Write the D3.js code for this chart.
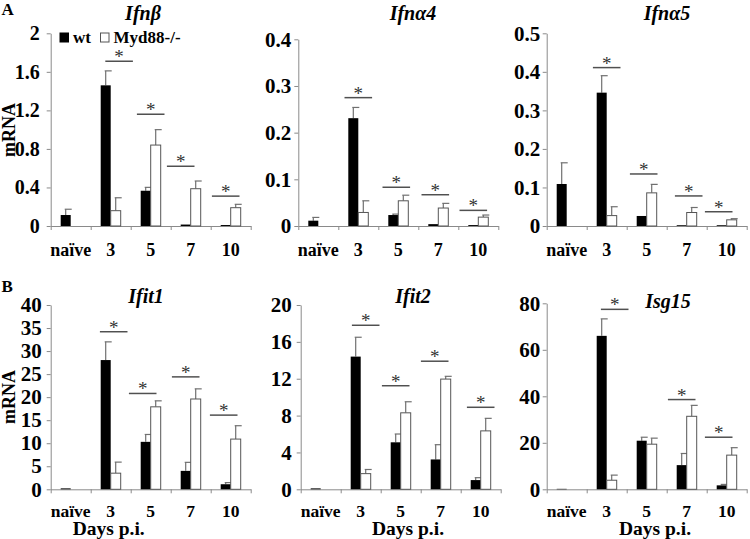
<!DOCTYPE html>
<html>
<head>
<meta charset="utf-8">
<script src="https://cdn.jsdelivr.net/npm/d3@7"></script>
<style>
  html, body { margin: 0; padding: 0; background: #fff; }
  svg { display: block; font-family: "Liberation Serif", "Times New Roman", serif; }
</style>
</head>
<body>
<svg id="chart" width="750" height="539"></svg>
<script>
// ---------- DATA ----------
const categories = ["naïve", "3", "5", "7", "10"];
const seriesNames = ["wt", "Myd88-/-"];
const geneNames = ["Ifnβ", "Ifnα4", "Ifnα5", "Ifit1", "Ifit2", "Isg15"];

const ifnbWt     = [0.114, 1.46, 0.366, 0.015, 0.01];
const ifnbWtErr  = [0.06, 0.15, 0.035, 0, 0];
const ifnbMyd    = [null, 0.159, 0.84, 0.387, 0.19];
const ifnbMydErr = [null, 0.134, 0.16, 0.08, 0.035];
const ifnbSig    = [null, 1.71, 1.16, 0.62, 0.31];
const ifnbTicks  = [0, 0.4, 0.8, 1.2, 1.6, 2];

const ifna4Wt     = [0.0114, 0.231, 0.0235, 0.004, 0.002];
const ifna4WtErr  = [0.007, 0.023, 0.002, 0, 0];
const ifna4Myd    = [null, 0.029, 0.054, 0.0385, 0.019];
const ifna4MydErr = [null, 0.025, 0.012, 0.010, 0.0045];
const ifna4Sig    = [null, 0.275, 0.083, 0.067, 0.0335];
const ifna4Ticks  = [0, 0.1, 0.2, 0.3, 0.4];

const ifna5Wt     = [0.109, 0.346, 0.026, 0.002, 0.002];
const ifna5WtErr  = [0.055, 0.044, 0, 0, 0];
const ifna5Myd    = [null, 0.027, 0.086, 0.035, 0.016];
const ifna5MydErr = [null, 0.023, 0.022, 0.013, 0.003];
const ifna5Sig    = [null, 0.411, 0.135, 0.078, 0.037];
const ifna5Ticks  = [0, 0.1, 0.2, 0.3, 0.4, 0.5];

const ifit1Wt     = [0.2, 28.05, 10.3, 4.0, 1.1];
const ifit1WtErr  = [0, 3.95, 1.6, 1.85, 0.35];
const ifit1Myd    = [null, 3.5, 17.9, 19.6, 10.9];
const ifit1MydErr = [null, 2.4, 1.3, 2.2, 2.9];
const ifit1Sig    = [null, 34.2, 20.8, 24.4, 16.1];
const ifit1Ticks  = [0, 5, 10, 15, 20, 25, 30, 35, 40];

const ifit2Wt     = [0.1, 14.4, 5.1, 3.24, 1.0];
const ifit2WtErr  = [0, 2.1, 0.9, 1.6, 0.26];
const ifit2Myd    = [null, 1.7, 8.3, 11.96, 6.34];
const ifit2MydErr = [null, 0.45, 1.2, 0.3, 1.36];
const ifit2Sig    = [null, 17.8, 11.24, 13.9, 8.9];
const ifit2Ticks  = [0, 4, 8, 12, 16, 20];

const isg15Wt     = [0.2, 66, 20.9, 10.4, 1.7];
const isg15WtErr  = [0, 7.3, 1.5, 5.0, 0.4];
const isg15Myd    = [null, 3.9, 19.4, 31.4, 14.7];
const isg15MydErr = [null, 2.2, 2.6, 4.7, 3.2];
const isg15Sig    = [null, 77.4, null, 38.6, 22.4];
const isg15Ticks  = [0, 20, 40, 60, 80];

// ---------- LAYOUT (not data) ----------
const panels = [
  {gene: geneNames[0], wt: ifnbWt, wtErr: ifnbWtErr, myd: ifnbMyd, mydErr: ifnbMydErr, sig: ifnbSig, ticks: ifnbTicks,
   x0: 50.7, y0: 226, yTop: 33.3, pad: 7, tickSize: 20, titleX: 143, titleY: 19.5, sigShift: [0, 0.21, 0, -0.25, -0.125], labPad: 17, labSize: 18},
  {gene: geneNames[1], wt: ifna4Wt, wtErr: ifna4WtErr, myd: ifna4Myd, mydErr: ifna4MydErr, sig: ifna4Sig, ticks: ifna4Ticks,
   x0: 298.3, y0: 226, yTop: 39.3, pad: 3, tickSize: 21, titleX: 413, titleY: 19.5, sigShift: [0, 0, -0.05, -0.075, -0.125], labPad: 17, labSize: 18},
  {gene: geneNames[2], wt: ifna5Wt, wtErr: ifna5WtErr, myd: ifna5Myd, mydErr: ifna5MydErr, sig: ifna5Sig, ticks: ifna5Ticks,
   x0: 546.7, y0: 226, yTop: 33.3, pad: 2.5, tickSize: 21, titleX: 667, titleY: 19.5, sigShift: [0, 0, -0.075, 0.05, -0.2], labPad: 17, labSize: 18},
  {gene: geneNames[3], wt: ifit1Wt, wtErr: ifit1WtErr, myd: ifit1Myd, mydErr: ifit1MydErr, sig: ifit1Sig, ticks: ifit1Ticks,
   x0: 50.7, y0: 489.3, yTop: 305, pad: 5, tickSize: 21, titleX: 146, titleY: 303, sigShift: [0, 0.075, -0.2, -0.125, -0.175], labPad: 15.5, labSize: 17.5},
  {gene: geneNames[4], wt: ifit2Wt, wtErr: ifit2WtErr, myd: ifit2Myd, mydErr: ifit2MydErr, sig: ifit2Sig, ticks: ifit2Ticks,
   x0: 300.7, y0: 489.3, yTop: 305, pad: 5, tickSize: 21, titleX: 413, titleY: 303, sigShift: [0, 0.125, -0.125, -0.15, 0], labPad: 15.5, labSize: 17.5},
  {gene: geneNames[5], wt: isg15Wt, wtErr: isg15WtErr, myd: isg15Myd, mydErr: isg15MydErr, sig: isg15Sig, ticks: isg15Ticks,
   x0: 546.7, y0: 489.3, yTop: 303.3, pad: 2.5, tickSize: 21, titleX: 668, titleY: 308, sigShift: [0, 0.2, 0, -0.125, -0.2], labPad: 15.5, labSize: 17.5}
];

const BAND = 40;
const AXIS_COLOR = "#8a8a8a";
const ERR_COLOR = "#707070";
const SIG_COLOR = "#505050";
const FONT = "Liberation Serif, Times New Roman, serif";

const svg = d3.select("#chart");

function drawPanel(p) {
  const g = svg.append("g");
  const tMax = p.ticks[p.ticks.length - 1];
  const y = d3.scaleLinear().domain([0, tMax]).range([p.y0, p.yTop]);
  const x = d3.scaleBand().domain(categories).range([p.x0, p.x0 + BAND * categories.length]).paddingInner(0).paddingOuter(0);
  const xs = d3.scaleBand().domain(seriesNames).range([x.bandwidth() * 0.25, x.bandwidth() * 0.75]);
  const xb = d3.scaleLinear().domain([0, categories.length]).range(x.range());

  // y axis
  const yAxis = g.append("g").attr("transform", `translate(${p.x0},0)`)
    .call(d3.axisLeft(y).tickValues(p.ticks).tickSize(4).tickPadding(p.pad).tickSizeOuter(0)
      .tickFormat(d => String(d)));
  yAxis.select(".domain").attr("stroke", AXIS_COLOR);
  yAxis.selectAll(".tick line").attr("stroke", AXIS_COLOR);
  yAxis.selectAll(".tick text").attr("fill", "#000").attr("font-size", p.tickSize).attr("font-weight", "bold")
    .attr("font-family", FONT);

  // x axis: boundary ticks
  const xAxis = g.append("g").attr("transform", `translate(0,${p.y0})`)
    .call(d3.axisBottom(xb).tickValues(d3.range(categories.length + 1)).tickSize(4).tickSizeOuter(0).tickFormat(""));
  xAxis.select(".domain").attr("stroke", AXIS_COLOR);
  xAxis.selectAll(".tick line").attr("stroke", AXIS_COLOR);

  // x labels
  const xLab = g.append("g").attr("transform", `translate(0,${p.y0})`)
    .call(d3.axisBottom(x).tickSize(0).tickPadding(p.labPad));
  xLab.select(".domain").remove();
  xLab.selectAll(".tick text").attr("fill", "#000").attr("font-size", p.labSize).attr("font-weight", "bold")
    .attr("font-family", FONT);

  // bars
  const rows = categories.map((c, i) => ({c, i}));
  const barData = [];
  rows.forEach(({c, i}) => {
    if (p.wt[i] != null) barData.push({c, s: seriesNames[0], v: p.wt[i], e: p.wtErr[i]});
    if (p.myd[i] != null) barData.push({c, s: seriesNames[1], v: p.myd[i], e: p.mydErr[i]});
  });

  const errG = g.append("g");
  barData.filter(d => d.e > 0).forEach(d => {
    const cx = x(d.c) + xs(d.s) + xs.bandwidth() / 2;
    errG.append("line").attr("x1", cx).attr("x2", cx).attr("y1", y(d.v)).attr("y2", y(d.v + d.e))
      .attr("stroke", ERR_COLOR).attr("stroke-width", 1.2);
    errG.append("line").attr("x1", cx - 1).attr("x2", cx + 6).attr("y1", y(d.v + d.e)).attr("y2", y(d.v + d.e))
      .attr("stroke", ERR_COLOR).attr("stroke-width", 1.2);
  });

  g.append("g").selectAll("rect").data(barData).join("rect")
    .attr("x", d => x(d.c) + xs(d.s))
    .attr("width", xs.bandwidth())
    .attr("y", d => y(d.v))
    .attr("height", d => Math.max(0, p.y0 - y(d.v)))
    .attr("fill", d => d.s === seriesNames[0] ? "#000" : "#fff")
    .attr("stroke", d => d.s === seriesNames[0] ? "#000" : "#555")
    .attr("stroke-width", d => d.s === seriesNames[0] ? 0 : 1);

  // significance lines
  const sigG = g.append("g");
  rows.forEach(({c, i}) => {
    if (p.sig[i] == null) return;
    const cx = x(c) + x.bandwidth() / 2 + p.sigShift[i] * x.bandwidth();
    const half = x.bandwidth() * 0.345;
    const yy = y(p.sig[i]);
    sigG.append("line").attr("x1", cx - half).attr("x2", cx + half).attr("y1", yy).attr("y2", yy)
      .attr("stroke", SIG_COLOR).attr("stroke-width", 1.5);
    sigG.append("text").attr("x", cx).attr("y", yy + 2).attr("text-anchor", "middle")
      .attr("font-size", 19).attr("fill", "#333").text("*");
  });

  // title
  g.append("text").attr("x", p.titleX).attr("y", p.titleY).attr("text-anchor", "middle")
    .attr("font-size", 20).attr("font-weight", "bold").attr("font-style", "italic").text(p.gene);
}

panels.forEach(drawPanel);

// y-axis labels
svg.append("text").attr("transform", "translate(15,130) rotate(-90)").attr("text-anchor", "middle")
  .attr("font-size", 18).attr("font-weight", "bold").text("mRNA");
svg.append("text").attr("transform", "translate(15,397) rotate(-90)").attr("text-anchor", "middle")
  .attr("font-size", 18).attr("font-weight", "bold").text("mRNA");

// x-axis titles
[108.7, 408, 655].forEach(cx => {
  svg.append("text").attr("x", cx).attr("y", 535).attr("text-anchor", "middle")
    .attr("font-size", 19.5).attr("font-weight", "bold").text("Days p.i.");
});

// panel letters
svg.append("text").attr("x", 1.5).attr("y", 15).attr("font-size", 17).attr("font-weight", "bold").text("A");
svg.append("text").attr("x", 1.5).attr("y", 292).attr("font-size", 17).attr("font-weight", "bold").text("B");

// legend
const legend = svg.append("g");
const legendSeries = [
  {name: seriesNames[0], fill: "#000", x: 60},
  {name: seriesNames[1], fill: "#fff", x: 100.5}
];
legendSeries.forEach(s => {
  legend.append("rect").attr("x", s.x).attr("y", 33).attr("width", 8.5).attr("height", 9)
    .attr("fill", s.fill).attr("stroke", s.fill === "#000" ? "#000" : "#555").attr("stroke-width", 1);
  legend.append("text").attr("x", s.x + 13).attr("y", 42.5).attr("font-size", 17).attr("font-weight", "bold").text(s.name);
});
</script>
</body>
</html>
